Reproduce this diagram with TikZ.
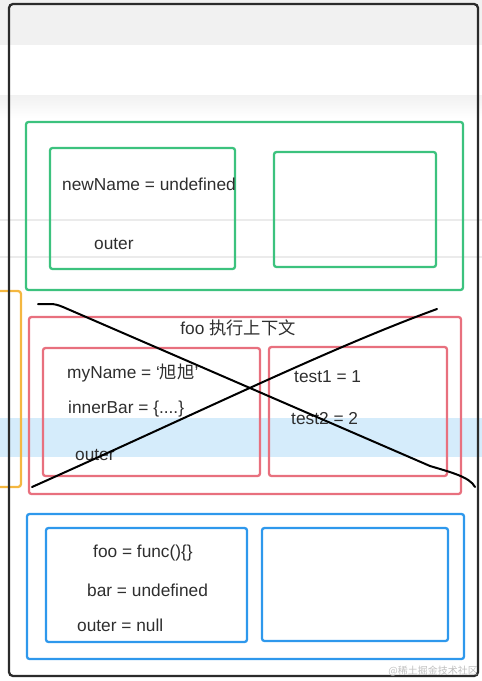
\documentclass[tikz,border=0pt]{standalone}
\usepackage{fontspec}
\setmainfont{Liberation Sans}
\newfontfamily\cjk{Noto Sans CJK SC}
\definecolor{FrameClr}{HTML}{2B2B2B}
\definecolor{GlobalClr}{HTML}{3CC27E}
\definecolor{FooClr}{HTML}{E8707E}
\definecolor{BarClr}{HTML}{2E98EC}
\definecolor{BracketClr}{HTML}{F4B740}
\definecolor{BandClr}{HTML}{F1F1F1}
\definecolor{HiliteClr}{HTML}{D5ECFB}
\definecolor{TextClr}{HTML}{2E2E2E}
\tikzset{
  ctxbox/.style={line width=2.3pt,rounded corners=2.5pt},
  vartext/.style={anchor=west,inner sep=0pt,text=TextClr,font=\fontsize{17.3}{20}\selectfont},
}

\begin{document}
\begin{tikzpicture}[x=1pt,y=-1pt]
\useasboundingbox (0,0) rectangle (482,681);

% screenshot background
\fill[BandClr] (0,0) rectangle (482,45);
\shade[top color=BandClr,bottom color=white] (0,95) rectangle (482,118);
\draw[black!8,line width=1.2pt] (0,220) -- (482,220) (0,257) -- (482,257);
\fill[HiliteClr] (0,418) rectangle (482,457);
\draw[BracketClr,line width=2.3pt,rounded corners=3pt] (-10,291) -- (21,291) -- (21,487) -- (-10,487);

\draw[FrameClr,line width=2.3pt,rounded corners=4pt] (9,4) rectangle (478,676);

% global context
\draw[GlobalClr,ctxbox] (26,122) rectangle (463,290);
\draw[GlobalClr,ctxbox] (50,148) rectangle (235,269);
\draw[GlobalClr,ctxbox] (274,152) rectangle (436,267);
\node[vartext] (newname) at (62,184) {newName = undefined};
\node[vartext] (gouter) at (94,244) {outer};

% foo context
\draw[FooClr,ctxbox] (29,317) rectangle (461,494);
\draw[FooClr,ctxbox] (43,348) rectangle (260,476);
\draw[FooClr,ctxbox] (269,347) rectangle (447,476);
\node[inner sep=0pt,text=TextClr,font=\fontsize{17.3}{20}\selectfont] (footitle) at (238,328) {foo {\cjk 执行上下文}};
\node[vartext] (myname) at (67,373) {myName = ‘{\cjk 旭旭}’};
\node[vartext] (innerbar) at (68,409) {innerBar = \{....\}};
\node[vartext] (fouter) at (75,455) {outer};
\node[vartext] (test1) at (294,377) {test1 = 1};
\node[vartext] (test2) at (291,419) {test2 = 2};

% crossed out
\draw[black,line width=2pt,line cap=round] (38,304) -- (50,304) .. controls (55,304) and (58,305) .. (63,307)
  -- (430,466) .. controls (450,472) and (470,477) .. (475,487);
\draw[black,line width=2pt,line cap=round] (32,487) .. controls (200,412) and (330,348) .. (437,309);

% bar context
\draw[BarClr,ctxbox] (27,514) rectangle (464,659);
\draw[BarClr,ctxbox] (46,528) rectangle (247,642);
\draw[BarClr,ctxbox] (262,528) rectangle (448,641);
\node[vartext] (foofn) at (93,553) {foo = func()\{\}};
\node[vartext] (bar) at (87,590) {bar = undefined};
\node[vartext] (bouter) at (77,625) {outer = null};

\node[anchor=east,inner sep=0pt,text=black!25,font=\cjk\fontsize{10}{12}\selectfont] (mark) at (478,671) {@稀土掘金技术社区};
\end{tikzpicture}
\end{document}
